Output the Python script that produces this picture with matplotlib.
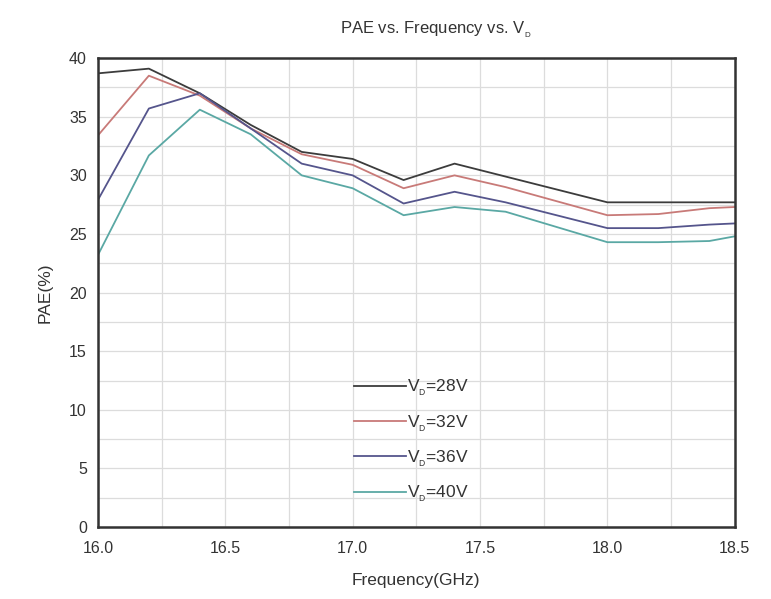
import matplotlib.pyplot as plt
import numpy as np

plt.rcParams['font.family'] = ['Liberation Sans', 'DejaVu Sans']
plt.rcParams['mathtext.default'] = 'regular'

freq = [16.0, 16.2, 16.4, 16.6, 16.8, 17.0, 17.2, 17.4, 17.6, 17.8, 18.0, 18.2, 18.4, 18.5]
pae_28 = [38.7, 39.1, 37.0, 34.3, 32.0, 31.4, 29.6, 31.0, 29.9, 28.8, 27.7, 27.7, 27.7, 27.7]
pae_32 = [33.4, 38.5, 36.8, 34.0, 31.8, 30.9, 28.9, 30.0, 29.0, 27.8, 26.6, 26.7, 27.2, 27.3]
pae_36 = [27.9, 35.7, 37.0, 34.0, 31.0, 30.0, 27.6, 28.6, 27.7, 26.6, 25.5, 25.5, 25.8, 25.9]
pae_40 = [23.2, 31.7, 35.6, 33.5, 30.0, 28.9, 26.6, 27.3, 26.9, 25.6, 24.3, 24.3, 24.4, 24.8]
labels = ['$V_{_D}$=28V', '$V_{_D}$=32V', '$V_{_D}$=36V', '$V_{_D}$=40V']
colors = ['#3c3c3c', '#c87a78', '#55558c', '#5aa8a4']

fig = plt.figure(figsize=(7.71, 5.99), dpi=100)
ax = fig.add_axes([0.127, 0.12, 0.826, 0.783])

for y, lab, c in zip([pae_28, pae_32, pae_36, pae_40], labels, colors):
    ax.plot(freq, y, color=c, linewidth=1.3, label=lab)

ax.set_xlim(16.0, 18.5)
ax.set_ylim(0, 40)
ax.set_xticks(np.arange(16.0, 18.51, 0.5))
ax.set_xticks(np.arange(16.0, 18.51, 0.25), minor=True)
ax.set_yticks(np.arange(0, 41, 5))
ax.set_yticks(np.arange(0, 41, 2.5), minor=True)
ax.set_xticklabels(['%.1f' % v for v in np.arange(16.0, 18.51, 0.5)])
ax.grid(True, which='both', color='#dcdcdc', linewidth=0.9)
ax.tick_params(which='both', length=0, labelsize=11.5, colors='#333333')
ax.tick_params(axis='x', pad=10)
ax.tick_params(axis='y', pad=8)

for s in ax.spines.values():
    s.set_color('#333333')
    s.set_linewidth(1.8)

ax.set_xlabel('Frequency(GHz)', fontsize=12.5, color='#333333', labelpad=12)
ax.set_ylabel('PAE(%)', fontsize=12.5, color='#333333', labelpad=12)
ax.set_title('PAE vs. Frequency vs. $V_{_D}$', fontsize=12, color='#333333', pad=18, x=0.53)

ax.legend(loc='lower left', bbox_to_anchor=(0.377, 0.015), frameon=False, fontsize=12.5,
          handlelength=3.0, handletextpad=0.1, labelspacing=0.85, labelcolor='#333333')

fig.savefig('out.png', dpi=100)
